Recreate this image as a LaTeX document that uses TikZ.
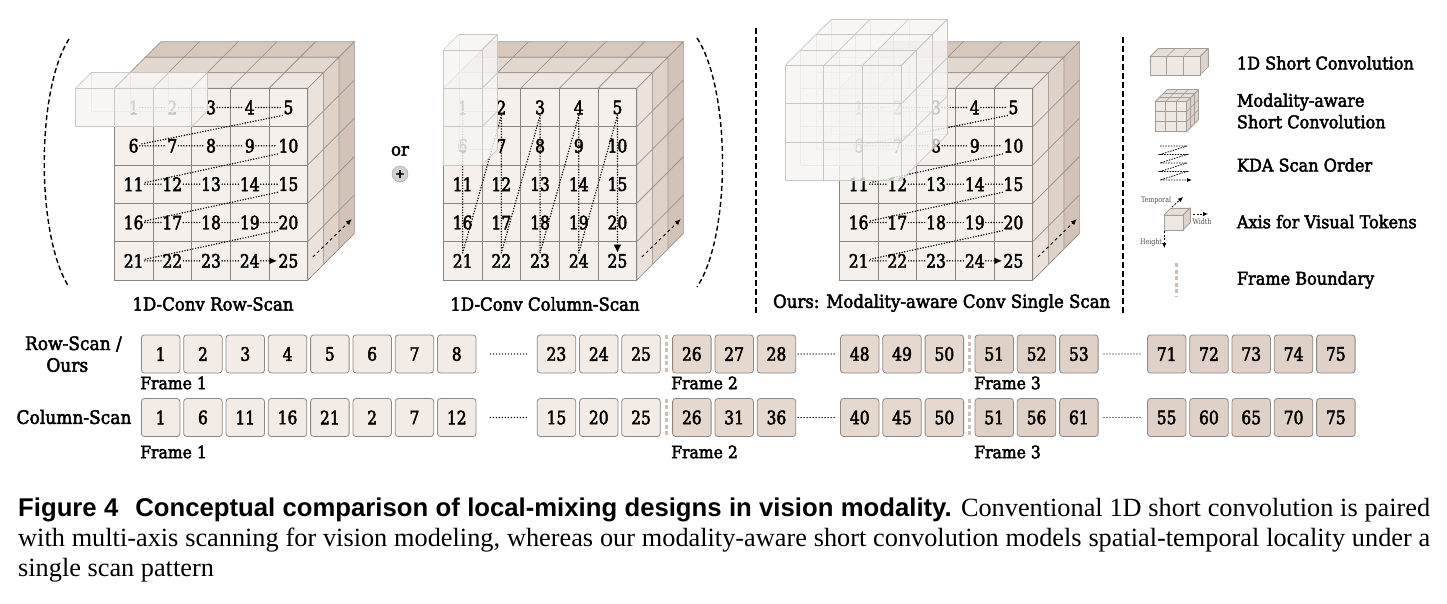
\documentclass[tikz,border=0pt]{standalone}
\usepackage{fontspec}
\setmainfont{DejaVu Serif}[FakeStretch=0.92,FakeBold=2.5]
\newfontfamily\numf{DejaVu Serif}[FakeStretch=0.84,FakeBold=2.5]
\newfontfamily\capsans{Liberation Sans}
\newfontfamily\capserif{Liberation Serif}
\newfontfamily\thinserif{DejaVu Serif}[FakeStretch=0.84]
\usetikzlibrary{arrows.meta}
\definecolor{frontC}{HTML}{F5F0EB}
\definecolor{topA}{HTML}{EEE6E0}
\definecolor{topB}{HTML}{E3D8D0}
\definecolor{topC}{HTML}{D7C8BE}
\definecolor{sideA}{HTML}{EBE2DB}
\definecolor{sideB}{HTML}{DFD2C9}
\definecolor{sideC}{HTML}{D2C2B7}
\definecolor{edgeF}{HTML}{858585}
\definecolor{edgeB}{HTML}{9A918B}
\definecolor{kfill}{HTML}{F7F5F3}
\definecolor{kedge}{HTML}{C9C7C5}
\definecolor{seqA}{HTML}{F3ECE6}
\definecolor{seqB}{HTML}{E4D8CF}
\definecolor{seqC}{HTML}{DFD1C7}
\definecolor{seqEdge}{HTML}{8E8884}
\definecolor{fbC}{HTML}{CDBFB3}
\definecolor{iconEdge}{HTML}{A39C97}
\definecolor{iconFront}{HTML}{EEE8E3}
\definecolor{iconTop}{HTML}{E6DED8}
\definecolor{iconSide}{HTML}{DDD3CC}
\def\cellW{38.7}
\def\cellH{38.35}
\def\depD{15.5}

\tikzset{
  num/.style={font=\numf\fontsize{18.5}{20}\selectfont, inner sep=1pt},
  scan/.style={line width=1.6pt, line cap=round, dash pattern=on 0pt off 2.7pt, black},
  deptharrow/.style={line width=0.9pt, dash pattern=on 3pt off 3pt, -{Latex[length=6pt,width=5pt]}},
  paren/.style={line width=1.4pt, dash pattern=on 5pt off 3pt},
  divline/.style={line width=1.6pt, dash pattern=on 6pt off 3pt},
  seqbox/.style={rounded corners=3pt, draw=seqEdge, line width=0.8pt, minimum width=38.5pt, minimum height=38pt, inner sep=0pt, font=\numf\fontsize{18.5}{19}\selectfont},
  seqdots/.style={line width=1.4pt, line cap=round, dash pattern=on 0pt off 3pt},
  lab/.style={font=\fontsize{18}{20}\selectfont},
  rlab/.style={font=\fontsize{18.5}{20}\selectfont},
  frlab/.style={font=\fontsize{17}{18}\selectfont, anchor=west, inner sep=0pt},
  leg/.style={font=\fontsize{17.5}{21.5}\selectfont, anchor=west, align=left, inner sep=0pt},
  tiny/.style={font=\thinserif\fontsize{7.5}{8}\selectfont, text=black!70, inner sep=0pt},
  fb/.style={fbC, line width=3pt, dash pattern=on 4pt off 2.5pt},
  kedge2/.style={kedge, line width=0.7pt},
}

\newcommand{\cubeAt}[3]{%
  \begin{scope}[shift={(#2,#3)}]
    \foreach \k/\tc/\sc in {3/topC/sideC,2/topB/sideB,1/topA/sideA}{%
      \foreach \ci in {0,...,4}{%
        \filldraw[fill=\tc,draw=edgeB,line width=0.6pt]
          ({\ci*\cellW+(\k-1)*\depD},{-(\k-1)*\depD}) -- ++(\cellW,0) -- ++(\depD,-\depD) -- ++(-\cellW,0) -- cycle;
      }%
      \foreach \ri in {0,...,4}{%
        \filldraw[fill=\sc,draw=edgeB,line width=0.6pt]
          ({5*\cellW+(\k-1)*\depD},{\ri*\cellH-(\k-1)*\depD}) -- ++(\depD,-\depD) -- ++(0,\cellH) -- ++(-\depD,\depD) -- cycle;
      }%
    }%
    \foreach \ci in {0,...,4}{\foreach \ri in {0,...,4}{%
      \filldraw[fill=frontC,draw=edgeF,line width=0.9pt] ({\ci*\cellW},{\ri*\cellH}) rectangle ++(\cellW,\cellH);
    }}%
  \end{scope}
  \foreach \n in {1,...,25}{%
    \pgfmathtruncatemacro\rowI{(\n-1)/5}%
    \pgfmathtruncatemacro\colI{mod(\n-1,5)}%
    \node[num] (#1\n) at ({#2+(\colI+0.5)*\cellW},{#3+(\rowI+0.5)*\cellH}) {\n};
  }
  \coordinate (#1da) at ({#2+5*\cellW+5},{#3+5*\cellH-23});
  \coordinate (#1db) at ({#2+5*\cellW+44},{#3+5*\cellH-61});
  \draw[deptharrow] (#1da) -- (#1db);
}

\newcommand{\rowScan}[1]{%
  \foreach \ri in {0,...,4}{\foreach \ci in {1,...,4}{%
    \pgfmathtruncatemacro\nA{\ri*5+\ci}\pgfmathtruncatemacro\nB{\nA+1}%
    \ifnum\nA=24\relax
      \draw[scan,-{Latex[length=8pt,width=7pt]}] (#1\nA.east) -- (#1\nB.west);
    \else
      \draw[scan] (#1\nA.east) -- (#1\nB.west);
    \fi
  }}
  \foreach \ri in {1,...,4}{%
    \pgfmathtruncatemacro\nA{\ri*5}\pgfmathtruncatemacro\nB{\nA+1}%
    \draw[scan] (#1\nA.south west) -- ([yshift=1.5pt]#1\nB.east);
  }
}

\newcommand{\kernelAt}[5]{%
  \begin{scope}[shift={(#1,#2)}]
    \foreach \lay in {#5,...,1}{%
      \begin{scope}[shift={({\lay*\depD},{-\lay*\depD})}]
        \fill[kfill,opacity=0.3] (0,0) rectangle ({#3*\cellW},{#4*\cellH});
        \foreach \ii in {0,...,#3}{\draw[kedge,line width=0.6pt] ({\ii*\cellW},0) -- ({\ii*\cellW},{#4*\cellH});}
        \foreach \jj in {0,...,#4}{\draw[kedge,line width=0.6pt] (0,{\jj*\cellH}) -- ({#3*\cellW},{\jj*\cellH});}
      \end{scope}}
    \fill[kfill,opacity=0.75] (0,0) -- ({#3*\cellW},0) -- ++({#5*\depD},{-#5*\depD}) -- ({#5*\depD},{-#5*\depD}) -- cycle;
    \fill[kfill,opacity=0.75] ({#3*\cellW},0) -- ++({#5*\depD},{-#5*\depD}) -- ++(0,{#4*\cellH}) -- ++({-#5*\depD},{#5*\depD}) -- cycle;
    \fill[kfill,opacity=0.8] (0,0) rectangle ({#3*\cellW},{#4*\cellH});
    \foreach \ii in {0,...,#3}{\draw[kedge2] ({\ii*\cellW},0) -- ++({#5*\depD},{-#5*\depD});}
    \foreach \ll in {0,...,#5}{\draw[kedge2] ({\ll*\depD},{-\ll*\depD}) -- ++({#3*\cellW},0);}
    \foreach \jj in {0,...,#4}{\draw[kedge2] ({#3*\cellW},{\jj*\cellH}) -- ++({#5*\depD},{-#5*\depD});}
    \foreach \ll in {0,...,#5}{\draw[kedge2] ({#3*\cellW+\ll*\depD},{-\ll*\depD}) -- ++(0,{#4*\cellH});}
    \foreach \ii in {0,...,#3}{\draw[kedge2] ({\ii*\cellW},0) -- ({\ii*\cellW},{#4*\cellH});}
    \foreach \jj in {0,...,#4}{\draw[kedge2] (0,{\jj*\cellH}) -- ({#3*\cellW},{\jj*\cellH});}
  \end{scope}}

% #1 x0, #2 y0, #3 nc, #4 nr, #5 nl, #6 w, #7 h, #8 d
\newcommand{\iconBox}[8]{%
  \begin{scope}[shift={(#1,#2)},color=iconEdge,line width=0.5pt]
    \filldraw[fill=iconTop] (0,0) -- ++({#3*#6},0) -- ++({#5*#8},{-#5*#8}) -- ++({-#3*#6},0) -- cycle;
    \filldraw[fill=iconSide] ({#3*#6},0) -- ++({#5*#8},{-#5*#8}) -- ++(0,{#4*#7}) -- ++({-#5*#8},{#5*#8}) -- cycle;
    \filldraw[fill=iconFront] (0,0) rectangle ({#3*#6},{#4*#7});
    \foreach \ii in {0,...,#3}{\draw ({\ii*#6},0) -- ++({#5*#8},{-#5*#8}); \draw ({\ii*#6},0) -- ({\ii*#6},{#4*#7});}
    \foreach \jj in {0,...,#4}{\draw (0,{\jj*#7}) -- ({#3*#6},{\jj*#7}); \draw ({#3*#6},{\jj*#7}) -- ++({#5*#8},{-#5*#8});}
    \foreach \ll in {0,...,#5}{\draw ({\ll*#8},{-\ll*#8}) -- ++({#3*#6},0); \draw ({#3*#6+\ll*#8},{-\ll*#8}) -- ++(0,{#4*#7});}
  \end{scope}}

% #1 y, #2 start x, #3 prefix, #4 colour, #5 list
\newcommand{\seqGroup}[5]{%
  \foreach \v [count=\i] in {#5}{%
    \node[seqbox, fill=#4] (#3\i) at ({#2+19.25+(\i-1)*42.3},#1) {\v};
  }}

\begin{document}
\begin{tikzpicture}[x=1pt,y=-1pt]
\useasboundingbox (0,0) rectangle (1447,604);
\fill[white] (0,0) rectangle (1447,604);

% ---------- cube A: row scan
\cubeAt{A}{114.3}{88.3}
\rowScan{A}
\kernelAt{75.6}{88.3}{3}{1}{1}
\draw[paren] (69,39) .. controls (36,90) and (36,236) .. (69,287);
\node[lab] (labA) at (213,304) {1D-Conv Row-Scan};

% ---------- or / plus
\node[font=\fontsize{18}{20}\selectfont, inner sep=0pt] (orT) at (400,151) {or};
\node[circle, fill=black!18, draw=black!30, line width=0.6pt, minimum size=16pt, inner sep=0pt, font=\fontsize{12}{12}\selectfont\bfseries] (plusT) at (400,174) {+};

% ---------- cube B: column scan
\cubeAt{B}{443.3}{88.3}
\foreach \ci in {1,...,4}{%
  \pgfmathtruncatemacro\nB{\ci+20}%
  \draw[scan] (B\ci.south) -- (B\nB.north);
  \pgfmathtruncatemacro\nC{\ci+1}%
  \draw[scan] (B\nB.north) -- (B\nC.south);
}
\draw[scan,-{Latex[length=8pt,width=8pt]}] (B5.south) -- (B25.north);
\kernelAt{443.3}{49.95}{1}{3}{1}
\draw[paren] (697,38) .. controls (731,90) and (731,236) .. (697,287);
\node[lab] (labB) at (545,304) {1D-Conv Column-Scan};

% ---------- separators
\draw[divline] (756,28) -- (756,313);
\draw[divline] (1122.7,37) -- (1122.7,313);

% ---------- cube C: ours
\cubeAt{C}{839.3}{88.3}
\rowScan{C}
\kernelAt{785.1}{65.45}{3}{3}{3}
\node[lab] (labC) at (941.7,303) {Ours: Modality-aware Conv Single Scan};

% ---------- legend
\iconBox{1150}{56.7}{3}{1}{1}{16.7}{18.3}{8}
\node[leg] (leg1) at (1236.7,63) {1D Short Convolution};
\iconBox{1155}{101.7}{3}{3}{3}{10.5}{10}{4}
\node[leg] (leg2) at (1236.7,111) {Modality-aware\\Short Convolution};
\coordinate (k0) at (1160,146);
\draw[line width=0.8pt, dash pattern=on 1.5pt off 1.2pt, -{Latex[length=5pt,width=4pt]}]
  (k0) -- (1187,146) -- (1160,154.5) -- (1187,154.5) -- (1160,163) -- (1187,163) -- (1160,171.5) -- (1187,171.5) -- (1160,180) -- (1192,180);
\node[leg] (leg3) at (1236.7,165) {KDA Scan Order};
\iconBox{1164}{215}{1}{1}{1}{19}{15}{7}
\coordinate (axT0) at (1172,207);
\coordinate (axT1) at (1183,197);
\draw[line width=0.8pt, dash pattern=on 2pt off 1.5pt, -{Latex[length=5pt,width=4.5pt]}] (axT0) -- (axT1);
\node[tiny] (tTemp) at (1156,200) {Temporal};
\coordinate (axW0) at (1193,214);
\coordinate (axW1) at (1208,214);
\draw[line width=0.8pt, dash pattern=on 2pt off 1.5pt, -{Latex[length=5pt,width=4.5pt]}] (axW0) -- (axW1);
\node[tiny] (tWid) at (1202,222) {Width};
\coordinate (axH0) at (1164.3,231);
\coordinate (axH1) at (1164.3,248);
\draw[line width=0.8pt, dash pattern=on 2pt off 1.5pt, -{Latex[length=5pt,width=4.5pt]}] (axH0) -- (axH1);
\node[tiny] (tHei) at (1151,242) {Height};
\node[leg] (leg4) at (1236.7,221.7) {Axis for Visual Tokens};
\draw[fb] (1176,263) -- (1176,296);
\node[leg] (leg5) at (1236.7,280) {Frame Boundary};

% ---------- token sequences
\node[rlab] (rl1) at (73.4,344) {Row-Scan /};
\node[rlab] (rl2) at (67.3,365) {Ours};
\node[rlab] (rl3) at (74,417) {Column-Scan};

\seqGroup{354}{141.4}{qa}{seqA}{1,2,3,4,5,6,7,8}
\seqGroup{354}{537.2}{qb}{seqA}{23,24,25}
\seqGroup{354}{672.6}{qc}{seqB}{26,27,28}
\seqGroup{354}{840.5}{qd}{seqB}{48,49,50}
\seqGroup{354}{975}{qe}{seqC}{51,52,53}
\seqGroup{354}{1147.4}{qf}{seqC}{71,72,73,74,75}

\seqGroup{417.5}{141.4}{wa}{seqA}{1,6,11,16,21,2,7,12}
\seqGroup{417.5}{537.2}{wb}{seqA}{15,20,25}
\seqGroup{417.5}{672.6}{wc}{seqB}{26,31,36}
\seqGroup{417.5}{840.5}{wd}{seqB}{40,45,50}
\seqGroup{417.5}{975}{we}{seqC}{51,56,61}
\seqGroup{417.5}{1147.4}{wf}{seqC}{55,60,65,70,75}

\foreach \p in {q,w}{%
  \draw[seqdots] ([xshift=14pt]\p a8.east) -- ([xshift=-9pt]\p b1.west);
  \draw[seqdots] ([xshift=2pt]\p c3.east) -- ([xshift=-4.5pt]\p d1.west);
  \draw[seqdots] ([xshift=5.5pt]\p e3.east) -- ([xshift=-5.4pt]\p f1.west);
}
\draw[fb] (666.2,335) -- (666.2,373);
\draw[fb] (969,335) -- (969,373);
\draw[fb] (666.2,398.5) -- (666.2,436.5);
\draw[fb] (969,398.5) -- (969,436.5);

\node[frlab] (fr11) at (140,383) {Frame 1};
\node[frlab] (fr12) at (671,383) {Frame 2};
\node[frlab] (fr13) at (974,383) {Frame 3};
\node[frlab] (fr21) at (140,452) {Frame 1};
\node[frlab] (fr22) at (671,452) {Frame 2};
\node[frlab] (fr23) at (974,452) {Frame 3};

% ---------- caption
\node[anchor=base west, inner sep=0pt] (cap1) at (18,516) {\makebox[1412pt][s]{\capsans\bfseries\fontsize{25.7}{30}\selectfont Figure 4\hspace{17pt}Conceptual comparison of local-mixing designs in vision modality.\capserif\mdseries\fontsize{26.3}{30}\selectfont{} Conventional 1D short convolution is paired}};
\node[anchor=base west, inner sep=0pt] (cap2) at (18,546) {\makebox[1412pt][s]{\capserif\fontsize{26.3}{30}\selectfont with multi-axis scanning for vision modeling, whereas our modality-aware short convolution models spatial-temporal locality under a}};
\node[anchor=base west, inner sep=0pt] (cap3) at (18,576) {\capserif\fontsize{26.3}{30}\selectfont single scan pattern};
\end{tikzpicture}
\end{document}
